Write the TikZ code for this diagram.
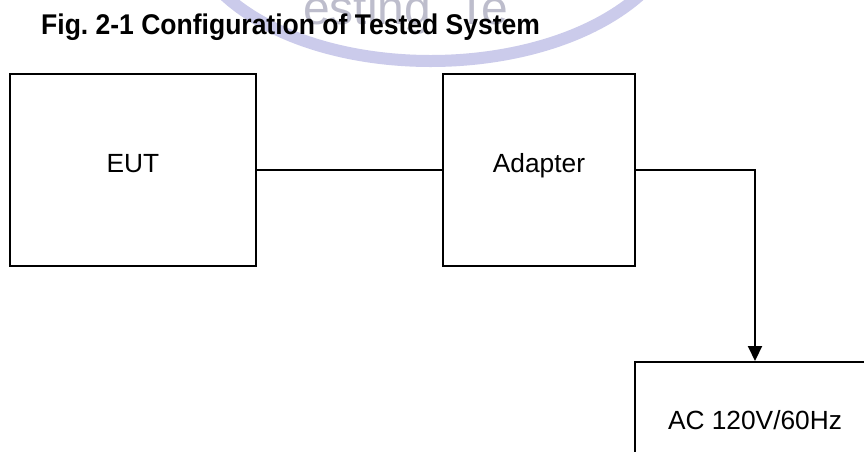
\documentclass[tikz,border=0pt]{standalone}
\usepackage{fontspec}
\setmainfont{Liberation Sans}
\usetikzlibrary{arrows.meta,calc}
\definecolor{wmarc}{HTML}{CBCBEB}
\definecolor{wmtext}{HTML}{BDBDCC}
\tikzset{
  box/.style={draw=black, line width=2pt, fill=none, inner sep=0pt},
  lbl/.style={inner sep=0pt, font=\fontsize{26.3}{30}\selectfont, anchor=base},
  conn/.style={draw=black, line width=2pt},
}
\frenchspacing
\begin{document}
\begin{tikzpicture}[x=1pt,y=-1pt]
\useasboundingbox (0,0) rectangle (864,451);
\clip (0,0) rectangle (864,451);
\fill[white] (0,0) rectangle (864,451);
% watermark
\draw[wmarc, line width=12pt] (210,-20) .. controls (300,88) and (560,88) .. (655,-20);
\node[inner sep=0pt, anchor=base west, text=wmtext, font=\fontsize{48}{50}\selectfont] (wm) at (303,24) {esting\ \ Te};
% title
\node[inner sep=0pt, anchor=base west, font=\fontsize{28.5}{30}\selectfont\bfseries] (title) at (41,34) {\scalebox{0.93}[1]{Fig. 2-1 Configuration of Tested System}};
% boxes
\node[box, minimum width=246pt, minimum height=192pt] (eut) at (133,170) {};
\node[box, minimum width=192pt, minimum height=192pt] (ad) at (539,170) {};
\node[box, minimum width=240pt, minimum height=114pt] (ac) at (755,419) {};
% labels
\node[lbl] (eutl) at ($(eut.center)+(0,2)$) {EUT};
\node[lbl] (adl) at ($(ad.center)+(0,2)$) {Adapter};
\node[lbl] (acl) at ($(ac.center)+(0,10)$) {AC 120V/60Hz};
% connectors
\draw[conn] (eut.east) -- (ad.west);
\draw[conn, -{Triangle[width=14pt,length=15pt]}] (ad.east) -| (ac.north);
\end{tikzpicture}
\end{document}
